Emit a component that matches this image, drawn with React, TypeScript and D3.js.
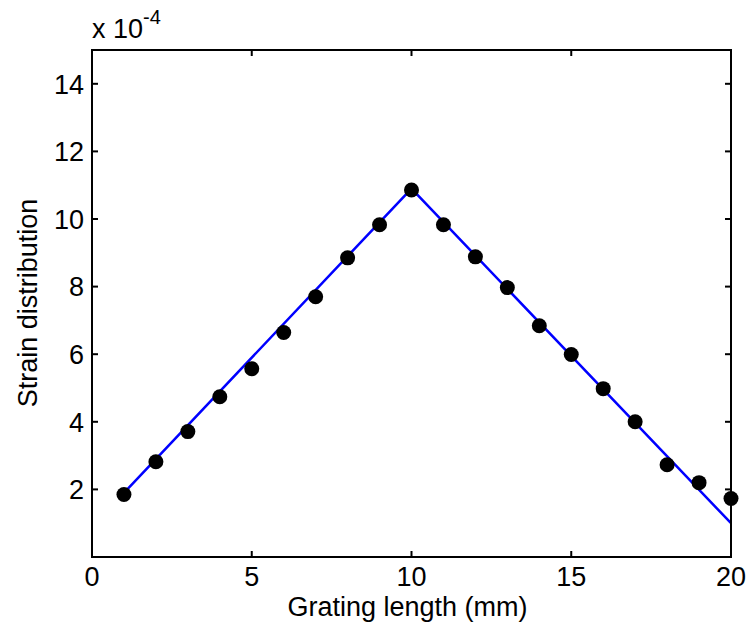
import * as d3 from "d3";

const positions = [1, 2, 3, 4, 5, 6, 7, 8, 9, 10, 11, 12, 13, 14, 15, 16, 17, 18, 19, 20];
const measured = [1.85, 2.82, 3.71, 4.74, 5.57, 6.64, 7.70, 8.85, 9.83, 10.86, 9.83, 8.88, 7.97, 6.84, 5.99, 4.98, 4.0, 2.73, 2.20, 1.73];
const fitX = [1, 10, 20];
const fitY = [1.9, 10.9, 1.0];
const xTicks = [0, 5, 10, 15, 20];
const yTicks = [2, 4, 6, 8, 10, 12, 14];

const W = 751;
const H = 635;
const left = 92;
const right = 731;
const top = 50;
const bottom = 557;
const font = "'Liberation Sans', Arial, sans-serif";

export default function App() {
  const x = d3.scaleLinear().domain([0, 20]).range([left, right]);
  const y = d3.scaleLinear().domain([0, 15]).range([bottom, top]);

  const line = d3.line<number>()
    .x((_, i) => x(fitX[i]))
    .y(d => y(d));

  const tick = 6;

  return (
    <svg width={W} height={H} style={{ position: "absolute", left: 0, top: 0, background: "#fff" }}>
      <rect x={0} y={0} width={W} height={H} fill="#fff" />
      <path d={line(fitY) ?? ""} fill="none" stroke="#0000ff" strokeWidth={2.5} />
      {positions.map((p, i) => (
        <circle key={i} cx={x(p)} cy={y(measured[i])} r={7.5} fill="#000" />
      ))}

      {/* box */}
      <rect x={left} y={top} width={right - left} height={bottom - top} fill="none" stroke="#000" strokeWidth={2} />

      {xTicks.map(t => (
        <g key={"x" + t}>
          <line x1={x(t)} x2={x(t)} y1={bottom} y2={bottom - tick} stroke="#000" strokeWidth={2} />
          <line x1={x(t)} x2={x(t)} y1={top} y2={top + tick} stroke="#000" strokeWidth={2} />
          <text x={x(t)} y={586} textAnchor="middle" fontFamily={font} fontSize={27} fill="#000">{t}</text>
        </g>
      ))}
      {yTicks.map(t => (
        <g key={"y" + t}>
          <line x1={left} x2={left + tick} y1={y(t)} y2={y(t)} stroke="#000" strokeWidth={2} />
          <line x1={right} x2={right - tick} y1={y(t)} y2={y(t)} stroke="#000" strokeWidth={2} />
          <text x={84} y={y(t)} dy="0.36em" textAnchor="end" fontFamily={font} fontSize={27} fill="#000">{t}</text>
        </g>
      ))}

      <text x={92} y={38} fontFamily={font} fontSize={27} fill="#000">
        x 10<tspan dy={-14} fontSize={20}>-4</tspan>
      </text>

      <text x={(left + right) / 2 - 4} y={616} textAnchor="middle" fontFamily={font} fontSize={27} fill="#000">
        Grating length (mm)
      </text>
      <text transform={`translate(37,303) rotate(-90)`} textAnchor="middle" fontFamily={font} fontSize={27} fill="#000">
        Strain distribution
      </text>
    </svg>
  );
}
